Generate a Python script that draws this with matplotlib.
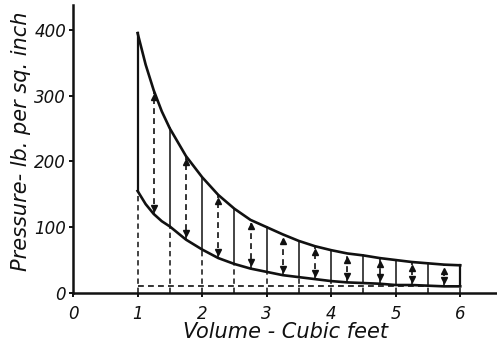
import matplotlib
matplotlib.use("Agg")
import matplotlib.pyplot as plt
from matplotlib.transforms import ScaledTranslation

# Points along the two expansion curves (volume in cubic feet)
curve_volume = [1.000, 1.125, 1.250, 1.375, 1.500, 1.750, 2.000, 2.250, 2.500,
                2.750, 3.000, 3.250, 3.500, 3.750, 4.000, 4.250, 4.500,
                4.750, 5.000, 5.250, 5.500, 5.750, 6.000]
# Upper curve, lb. per sq. inch
p_upper = [395, 347, 308, 276, 250, 208, 176, 149, 128,
           111, 100, 89, 79, 71, 65, 60, 57,
           53, 50, 47, 45, 43, 42]
# Lower curve, lb. per sq. inch
p_lower = [155, 135, 120, 109, 101, 81, 66, 53, 44,
           37, 32, 27, 24, 21, 18, 16, 15,
           14, 12, 12, 11, 10, 10]

# Ordinates: solid every half foot, dashed double arrows in between
solid_stations = [1.0, 1.5, 2.0, 2.5, 3.0, 3.5, 4.0, 4.5, 5.0, 5.5, 6.0]
arrow_stations = [1.25, 1.75, 2.25, 2.75, 3.25, 3.75, 4.25, 4.75, 5.25, 5.75]

# Back-pressure line
p_back = 11

x_ticks = [0, 1, 2, 3, 4, 5, 6]
y_ticks = [0, 100, 200, 300, 400]
x_label = "Volume - Cubic feet"
y_label = "Pressure- lb. per sq. inch"

ink = "#111111"
font = dict(family="DejaVu Sans", style="italic")

upper_at = dict(zip(curve_volume, p_upper))
lower_at = dict(zip(curve_volume, p_lower))

fig = plt.figure(figsize=(4.97, 3.43), dpi=100)
ax = fig.add_axes([0.147, 0.146, 0.853, 0.840])
ax.set_xlim(0, 6.57)
ax.set_ylim(0, 438)

# curves
ax.plot(curve_volume, p_upper, color=ink, lw=1.9, solid_joinstyle="round")
ax.plot(curve_volume, p_lower, color=ink, lw=1.9, solid_joinstyle="round")

dash = (0, (3.5, 2.5))
for v in solid_stations:
    lw = 1.6 if v in (solid_stations[0], solid_stations[-1]) else 1.1
    ax.plot([v, v], [lower_at[v], upper_at[v]], color=ink, lw=lw)
    ax.plot([v, v], [0, lower_at[v]], color=ink, lw=1.1, linestyle=dash)

down = ScaledTranslation(0, -4.5 / 72, fig.dpi_scale_trans)
up = ScaledTranslation(0, 4.5 / 72, fig.dpi_scale_trans)
for v in arrow_stations:
    ax.plot([v, v], [lower_at[v], upper_at[v]], color=ink, lw=1.2, linestyle=dash)
    ax.plot([v], [upper_at[v]], marker="^", ms=4.2, color=ink, mec=ink,
            transform=ax.transData + down)
    ax.plot([v], [lower_at[v]], marker="v", ms=4.2, color=ink, mec=ink,
            transform=ax.transData + up)

# back-pressure line
ax.plot([solid_stations[0], solid_stations[-1]], [p_back, p_back],
        color=ink, lw=1.2, linestyle=dash)

for s in ("top", "right"):
    ax.spines[s].set_visible(False)
for s in ("left", "bottom"):
    ax.spines[s].set_linewidth(1.8)
    ax.spines[s].set_color(ink)

ax.set_xticks(x_ticks)
ax.set_yticks(y_ticks)
ax.set_xticklabels([str(t) for t in x_ticks], fontsize=12, **font)
ax.set_yticklabels([str(t) for t in y_ticks], fontsize=12, **font)
ax.tick_params(axis="both", length=3, width=1.4, color=ink, labelcolor=ink)
ax.tick_params(axis="x", pad=6)
ax.tick_params(axis="y", pad=2)

ax.set_xlabel(x_label, fontsize=15, labelpad=-1, color=ink, **font)
ax.set_ylabel(y_label, fontsize=15, color=ink, **font)
ax.yaxis.set_label_coords(-0.10, 0.525)

fig.savefig("out.png", dpi=100)
